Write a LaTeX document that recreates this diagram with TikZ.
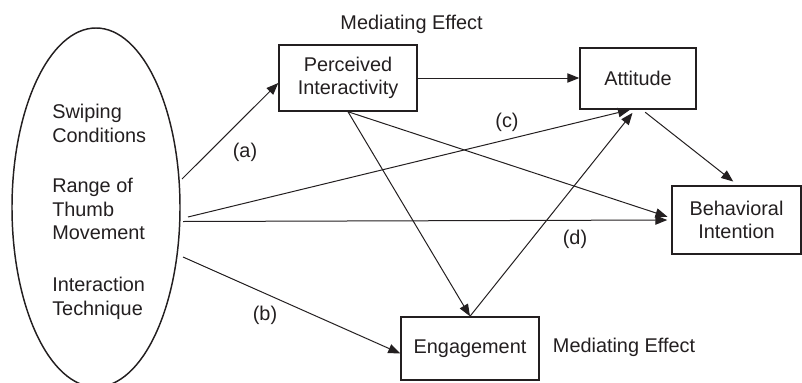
\documentclass[tikz,border=0pt]{standalone}
\usepackage{fontspec}
\setmainfont{Liberation Sans}
\usetikzlibrary{arrows.meta,shapes.geometric}
\definecolor{ink}{RGB}{35,31,32}
\begin{document}
\begin{tikzpicture}[x=0.75pt,y=-0.75pt,
  every node/.style={text=ink},
  font=\fontsize{14.9pt}{17.5pt}\selectfont,
  box/.style={draw=ink, line width=1.1pt, inner sep=0pt, align=center},
  arr/.style={draw=ink, -{Triangle[length=9pt,width=7pt]}, line width=0.75pt},
  lbl/.style={inner sep=0pt}]
\useasboundingbox (0,0) rectangle (802,382);

% ellipse of independent variables
\node[draw=ink, ellipse, line width=1.1pt, inner sep=0pt,
      minimum width=126pt, minimum height=269.25pt] (E) at (96,207.5) {};
\node[anchor=west, align=left, inner sep=0pt] (t1) at (52,123.5) {Swiping\\Conditions};
\node[anchor=west, align=left, inner sep=0pt] (t2) at (52,209) {Range of\\Thumb\\Movement};
\node[anchor=west, align=left, inner sep=0pt] (t3) at (52,298.5) {Interaction\\Technique};

% boxes
\node[box, minimum width=103.5pt, minimum height=49.5pt] (P) at (348,78) {Perceived\\Interactivity};
\node[box, minimum width=87pt, minimum height=45.75pt] (A) at (638,78.5) {Attitude};
\node[box, minimum width=96.75pt, minimum height=51pt] (B) at (736.5,220) {Behavioral\\Intention};
\node[box, minimum width=103.5pt, minimum height=47.25pt] (G) at (470,348.5) {Engagement};

% mediating effect labels
\node[lbl] (m1) at (411.5,24) {Mediating Effect};
\node[lbl] (m2) at (624,347) {Mediating Effect};

% path labels
\node[lbl] (la) at (245,152) {(a)};
\node[lbl] (lb) at (265,315) {(b)};
\node[lbl] (lc) at (507,122) {(c)};
\node[lbl] (ld) at (575,239) {(d)};

% start points next to the ellipse
\coordinate (sa) at (182,179);
\coordinate (sc) at (188,217);
\coordinate (sd) at (183,221.5);
\coordinate (sb) at (183,257);

% connectors
\draw[arr] (sa) -- ([yshift=-3.75pt]P.west);
\draw[arr] (P.east) -- (P.east -| A.west);
\draw[arr] (sc) -- ([xshift=-6pt]A.south);
\draw[arr, shorten >=3pt] (sd) -- (B.west);
\draw[arr] (sb) -- ([yshift=-3.75pt]G.west);
\draw[arr] (P.south) -- (G.north);
\draw[arr, shorten >=3pt] (P.south) -- ([yshift=1.5pt]B.west);
\draw[arr, shorten >=3pt] (G.north) -- ([xshift=-2.25pt]A.south);
\draw[arr, shorten <=3pt, shorten >=4.5pt] ([xshift=3pt]A.south) -- ([xshift=1.1pt]B.north);
\end{tikzpicture}
\end{document}
